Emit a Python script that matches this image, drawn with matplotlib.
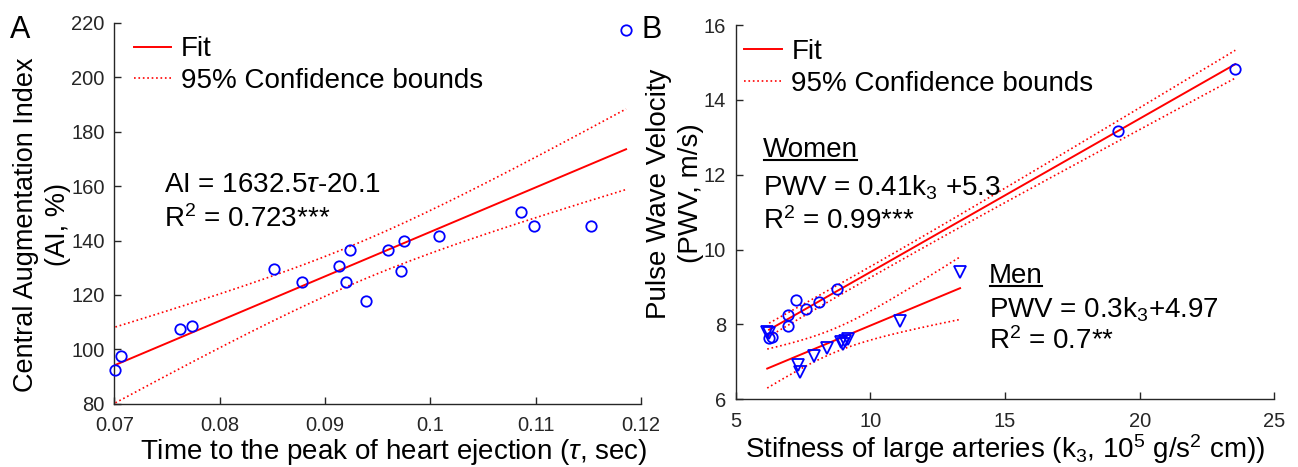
import numpy as np
import matplotlib
matplotlib.use('Agg')
import matplotlib.pyplot as plt

plt.rcParams['font.family'] = ['Liberation Sans', 'DejaVu Sans']
plt.rcParams['mathtext.fontset'] = 'custom'
plt.rcParams['mathtext.rm'] = 'Liberation Sans'
plt.rcParams['mathtext.it'] = 'Liberation Sans:italic'
plt.rcParams['mathtext.sf'] = 'Liberation Sans'

# panel A data
tau = [0.0701, 0.0706, 0.0762, 0.0774, 0.0852, 0.0878, 0.0913, 0.0920, 0.0924,
       0.0939, 0.0960, 0.0972, 0.0975, 0.1008, 0.1086, 0.1099, 0.1153, 0.1186]
ai = [92.5, 97.6, 107.5, 108.6, 129.5, 124.7, 130.6, 124.7, 136.5,
      117.7, 136.5, 128.7, 139.7, 141.5, 150.5, 145.4, 145.4, 217.4]
fitA = (1632.5, -20.1)

# panel B data
k3_women = [6.24, 6.36, 6.93, 6.93, 7.25, 7.62, 8.09, 8.77, 19.19, 23.55]
pwv_women = [7.63, 7.67, 8.25, 7.96, 8.66, 8.42, 8.59, 8.95, 13.16, 14.83]
k3_men = [6.17, 6.22, 7.31, 7.39, 7.92, 8.38, 8.90, 8.98, 9.07, 9.18, 11.10, 13.33]
pwv_men = [7.80, 7.76, 6.92, 6.72, 7.17, 7.36, 7.53, 7.47, 7.55, 7.62, 8.08, 9.41]
fitW = (0.41, 5.3)
fitM = (0.3, 4.97)

# two sided 95% t values by degrees of freedom
tval = {8: 2.306, 9: 2.262, 10: 2.228, 16: 2.120}

FS = 20


def fit_and_bounds(x, y, coef):
    x = np.asarray(x)
    y = np.asarray(y)
    n = len(x)
    xs = np.linspace(x.min(), x.max(), 200)
    yfit = coef[0] * xs + coef[1]
    resid = y - (coef[0] * x + coef[1])
    s = np.sqrt(np.sum(resid ** 2) / (n - 2))
    xm = x.mean()
    sxx = np.sum((x - xm) ** 2)
    hw = tval[n - 2] * s * np.sqrt(1.0 / n + (xs - xm) ** 2 / sxx)
    return xs, yfit, yfit - hw, yfit + hw


def style_axes(ax):
    for side in ['top', 'right']:
        ax.spines[side].set_visible(False)
    for side in ['left', 'bottom']:
        ax.spines[side].set_color('#262626')
        ax.spines[side].set_linewidth(1.0)
    ax.tick_params(direction='in', length=5, width=1.0, colors='#262626',
                   labelsize=14.5, labelcolor='#262626')
    ax.tick_params(axis='x', pad=9)
    ax.tick_params(axis='y', pad=7)


fig = plt.figure(figsize=(12.98, 4.67), dpi=100)
axA = fig.add_axes([0.0881, 0.135, 0.4056, 0.8166])
axB = fig.add_axes([0.5668, 0.145, 0.4150, 0.8013])

# ---- panel A
xs, yf, lo, hi = fit_and_bounds(tau, ai, fitA)
axA.plot(tau, ai, 'o', mfc='none', mec='blue', ms=7.5, mew=1.3, clip_on=False, zorder=5)
axA.plot(xs, yf, '-', color='red', lw=1.4, label='Fit')
axA.plot(xs, lo, ':', color='red', lw=1.2, label='95% Confidence bounds')
axA.plot(xs, hi, ':', color='red', lw=1.2)
axA.set_xlim(0.07, 0.12)
axA.set_ylim(80, 220)
axA.set_xticks([0.07, 0.08, 0.09, 0.1, 0.11, 0.12])
axA.set_xticklabels(['0.07', '0.08', '0.09', '0.1', '0.11', '0.12'])
axA.set_yticks(range(80, 221, 20))
style_axes(axA)
axA.set_xlabel(r'Time to the peak of heart ejection ($\tau$, sec)', fontsize=FS, labelpad=1)
axA.xaxis.label.set_x(0.53)
axA.set_ylabel('Central Augmentation Index\n(AI, %)', fontsize=19.5, labelpad=0, linespacing=1.3)
axA.yaxis.label.set_y(0.47)
axA.legend(loc='upper left', bbox_to_anchor=(0.01, 1.0), frameon=False, fontsize=FS,
           handlelength=1.35, handletextpad=0.35, labelspacing=0.2, borderaxespad=0.1)
axA.text(0.095, 0.575, r'AI = 1632.5$\tau$-20.1', transform=axA.transAxes, fontsize=FS, va='center')
axA.text(0.095, 0.485, r'R$^2$ = 0.723***', transform=axA.transAxes, fontsize=FS, va='center')
fig.text(0.008, 0.968, 'A', fontsize=22, va='top')

# ---- panel B
xs, yf, lo, hi = fit_and_bounds(k3_women, pwv_women, fitW)
axB.plot(k3_women, pwv_women, 'o', mfc='none', mec='blue', ms=7.5, mew=1.3, zorder=5)
axB.plot(xs, yf, '-', color='red', lw=1.4, label='Fit')
axB.plot(xs, lo, ':', color='red', lw=1.2, label='95% Confidence bounds')
axB.plot(xs, hi, ':', color='red', lw=1.2)
xs, yf, lo, hi = fit_and_bounds(k3_men, pwv_men, fitM)
axB.plot(k3_men, pwv_men, 'v', mfc='none', mec='blue', ms=8, mew=1.3, zorder=5)
axB.plot(xs, yf, '-', color='red', lw=1.4)
axB.plot(xs, lo, ':', color='red', lw=1.2)
axB.plot(xs, hi, ':', color='red', lw=1.2)
axB.set_xlim(5, 25)
axB.set_ylim(6, 16)
axB.set_xticks([5, 10, 15, 20, 25])
axB.set_yticks([6, 8, 10, 12, 14, 16])
style_axes(axB)
axB.set_xlabel(r'Stifness of large arteries (k$_3$, 10$^5$ g/s$^2$ cm))', fontsize=FS, labelpad=1)
axB.set_ylabel('Pulse Wave Velocity\n(PWV, m/s)', fontsize=FS, labelpad=0, linespacing=1.3)
axB.yaxis.label.set_y(0.55)
axB.legend(loc='upper left', bbox_to_anchor=(-0.01, 1.0), frameon=False, fontsize=FS,
           handlelength=1.35, handletextpad=0.35, labelspacing=0.2, borderaxespad=0.1)

women = axB.text(0.05, 0.665, 'Women', transform=axB.transAxes, fontsize=FS, va='center')
axB.text(0.05, 0.565, r'PWV = 0.41k$_3$ +5.3', transform=axB.transAxes, fontsize=FS, va='center')
axB.text(0.05, 0.475, r'R$^2$ = 0.99***', transform=axB.transAxes, fontsize=FS, va='center')
men = axB.text(0.47, 0.33, 'Men', transform=axB.transAxes, fontsize=FS, va='center')
axB.text(0.47, 0.24, r'PWV = 0.3k$_3$+4.97', transform=axB.transAxes, fontsize=FS, va='center')
axB.text(0.47, 0.155, r'R$^2$ = 0.7**', transform=axB.transAxes, fontsize=FS, va='center')
fig.text(0.494, 0.968, 'B', fontsize=22, va='top')

# underline the group titles
fig.canvas.draw()
r = fig.canvas.get_renderer()
for t in [women, men]:
    bb = t.get_window_extent(renderer=r)
    x0, y0 = fig.transFigure.inverted().transform((bb.x0 + 1, bb.y0 + 3))
    x1, _ = fig.transFigure.inverted().transform((bb.x1 - 1, bb.y0 + 3))
    fig.add_artist(plt.Line2D([x0, x1], [y0, y0], color='black', lw=1.5, transform=fig.transFigure))

fig.savefig('out.png', dpi=100)
